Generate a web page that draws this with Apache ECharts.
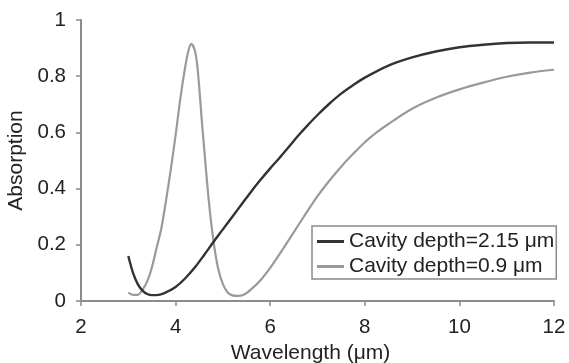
<!DOCTYPE html>
<html>
<head>
<meta charset="utf-8">
<title>Absorption vs wavelength</title>
<script src="https://cdn.jsdelivr.net/npm/echarts@6/dist/echarts.min.js"></script>
<style>
  html, body { margin: 0; padding: 0; background: #ffffff; }
  #chart { width: 569px; height: 363px; }
</style>
</head>
<body>
<div id="chart"></div>
<script>
// Absorption spectra for two cavity depths (wavelength in µm, absorption 0..1)
const seriesNames = ['Cavity depth=2.15 μm', 'Cavity depth=0.9 μm'];

const wavelengthDeep = [3.0, 3.1, 3.2, 3.3, 3.4, 3.5, 3.6, 3.75, 4.0, 4.2, 4.4, 4.6, 4.8, 5.0, 5.2, 5.4, 5.6, 5.8, 6.0, 6.2, 6.4, 6.6, 6.8, 7.0, 7.25, 7.5, 7.75, 8.0, 8.5, 9.0, 9.5, 10.0, 10.5, 11.0, 11.5, 12.0];
const absorptionDeep = [0.16, 0.10, 0.06, 0.037, 0.025, 0.021, 0.021, 0.027, 0.05, 0.08, 0.118, 0.163, 0.21, 0.255, 0.30, 0.345, 0.39, 0.432, 0.472, 0.51, 0.55, 0.59, 0.627, 0.662, 0.702, 0.738, 0.768, 0.795, 0.838, 0.867, 0.888, 0.903, 0.912, 0.918, 0.92, 0.92];

const wavelengthShallow = [3.0, 3.1, 3.2, 3.3, 3.4, 3.5, 3.6, 3.7, 3.8, 3.9, 4.0, 4.1, 4.2, 4.27, 4.33, 4.4, 4.45, 4.5, 4.55, 4.6, 4.7, 4.8, 4.9, 5.0, 5.1, 5.2, 5.3, 5.45, 5.6, 5.8, 6.0, 6.25, 6.5, 6.75, 7.0, 7.25, 7.5, 7.75, 8.0, 8.25, 8.5, 9.0, 9.5, 10.0, 10.5, 11.0, 11.5, 12.0];
const absorptionShallow = [0.03, 0.022, 0.022, 0.04, 0.07, 0.12, 0.19, 0.26, 0.36, 0.47, 0.59, 0.72, 0.83, 0.89, 0.915, 0.895, 0.85, 0.76, 0.65, 0.55, 0.36, 0.215, 0.115, 0.06, 0.03, 0.02, 0.018, 0.023, 0.042, 0.075, 0.118, 0.18, 0.245, 0.31, 0.373, 0.428, 0.478, 0.523, 0.565, 0.60, 0.63, 0.684, 0.723, 0.753, 0.777, 0.798, 0.813, 0.823];

const xTicks = { min: 2, max: 12, step: 2 };
const yTicks = { min: 0, max: 1, step: 0.2 };

const FONT = '"Liberation Sans", Arial, Helvetica, sans-serif';
const TEXT = '#222222';
const AXIS = '#8c8c8c';

function pairs(xs, ys) {
  return xs.map((x, i) => [x, ys[i]]);
}

const chart = echarts.init(document.getElementById('chart'), null, { renderer: 'canvas' });

chart.setOption({
  backgroundColor: '#ffffff',
  animation: false,
  textStyle: { fontFamily: FONT, color: TEXT },
  grid: { left: 81, right: 15, top: 20, bottom: 62, containLabel: false, outerBoundsMode: 'none' },
  legend: {
    orient: 'vertical',
    left: 312,
    top: 226,
    data: seriesNames,
    icon: 'rect',
    backgroundColor: '#ffffff',
    borderColor: '#8a8a8a',
    borderWidth: 1.5,
    borderRadius: 0,
    padding: [5, 2, 2, 5],
    itemGap: 4,
    itemWidth: 27,
    itemHeight: 3,
    textStyle: { fontFamily: FONT, fontSize: 21, color: TEXT }
  },
  xAxis: {
    type: 'value',
    min: xTicks.min,
    max: xTicks.max,
    interval: xTicks.step,
    name: 'Wavelength (μm)',
    nameLocation: 'middle',
    nameGap: 42,
    nameTextStyle: { fontFamily: FONT, fontSize: 21, color: TEXT, padding: [0, 14, 0, 0] },
    axisLine: { show: true, onZero: false, lineStyle: { color: AXIS, width: 2 } },
    axisTick: { show: true, inside: false, length: 5, lineStyle: { color: AXIS, width: 1.5 } },
    axisLabel: { fontFamily: FONT, fontSize: 20.5, color: TEXT, margin: 16 },
    splitLine: { show: false }
  },
  yAxis: {
    type: 'value',
    min: yTicks.min,
    max: yTicks.max,
    interval: yTicks.step,
    name: 'Absorption',
    nameLocation: 'middle',
    nameGap: 51,
    nameTextStyle: { fontFamily: FONT, fontSize: 21, color: TEXT },
    axisLine: { show: true, lineStyle: { color: AXIS, width: 2 } },
    axisTick: { show: true, inside: false, length: 5, lineStyle: { color: AXIS, width: 1.5 } },
    axisLabel: { fontFamily: FONT, fontSize: 20.5, color: TEXT, margin: 15 },
    splitLine: { show: false }
  },
  series: [
    {
      name: seriesNames[0],
      type: 'line',
      data: pairs(wavelengthDeep, absorptionDeep),
      smooth: 0.3,
      symbol: 'none',
      lineStyle: { color: '#333333', width: 2.4 },
      itemStyle: { color: '#333333' },
      z: 3
    },
    {
      name: seriesNames[1],
      type: 'line',
      data: pairs(wavelengthShallow, absorptionShallow),
      smooth: 0.3,
      symbol: 'none',
      lineStyle: { color: '#9a9a9a', width: 2.2 },
      itemStyle: { color: '#9a9a9a' },
      z: 2
    }
  ]
});
</script>
</body>
</html>
